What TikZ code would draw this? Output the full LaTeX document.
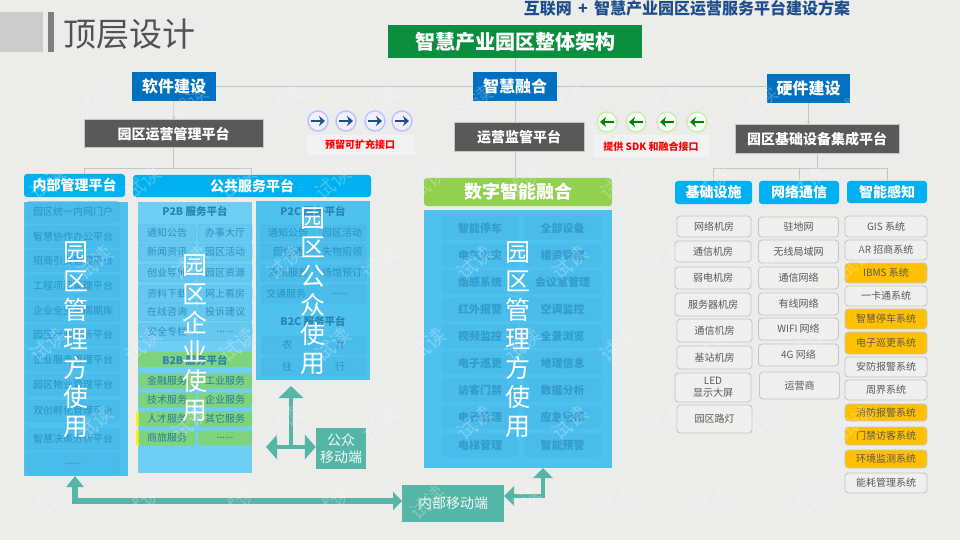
\documentclass[tikz,border=0pt]{standalone}
\usepackage{fontspec}
\setmainfont{Noto Sans CJK SC}
\usepackage{xcolor}
\usetikzlibrary{arrows.meta}

\definecolor{bgpaper}{HTML}{ECECEB}
\definecolor{titleblue}{HTML}{1F4E8C}
\definecolor{topgreen}{HTML}{0B8F3E}
\definecolor{catblue}{HTML}{0070C0}
\definecolor{darkslab}{HTML}{595959}
\definecolor{linegrey}{HTML}{C6C6C6}
\definecolor{headcyan}{HTML}{00B0F0}
\definecolor{panelblue}{HTML}{4FC1EE}
\definecolor{panelpale}{HTML}{6FCEF3}
\definecolor{itemblue}{HTML}{4ABCEB}
\definecolor{itempale}{HTML}{67C8EF}
\definecolor{itemline}{HTML}{43B4E3}
\definecolor{dimblue}{HTML}{2B93C4}
\definecolor{leafgreen}{HTML}{92D050}
\definecolor{b2bgreen}{HTML}{7FD37C}
\definecolor{tealarrow}{HTML}{55B5A6}
\definecolor{amber}{HTML}{FFC000}

\newcommand{\moredots}{......}

\tikzset{
    slab/.style={fill=#1, text=white, inner sep=0pt, font=\fontsize{16}{19}\selectfont\bfseries},
    greyslab/.style={fill=darkslab, draw=linegrey, line width=1pt, text=white, inner sep=0pt, font=\fontsize{14}{17}\selectfont\bfseries},
    headbar/.style={fill=#1, rounded corners=3pt, text=white, inner sep=0pt, font=\fontsize{14}{17}\selectfont\bfseries},
    panelbox/.style={fill=#1, inner sep=0pt},
    dimitem/.style={draw=itemline, fill=itemblue, rounded corners=3pt, text=dimblue, inner sep=0pt, font=\fontsize{10}{12}\selectfont},
    paleitem/.style={draw=itemline!70!itempale, fill=itempale, rounded corners=3pt, text=dimblue, inner sep=0pt, font=\fontsize{10}{12}\selectfont},
    greenitem/.style={fill=b2bgreen, rounded corners=3pt, text=dimblue!85!black, inner sep=0pt, font=\fontsize{10}{12}\selectfont},
    dimtitle/.style={text=dimblue!90!black, inner sep=0pt, font=\fontsize{10.5}{12}\selectfont\bfseries},
    plainleaf/.style={draw=black!22, line width=.9pt, fill=bgpaper!85!white, rounded corners=3.5pt, text=black!65, inner sep=0pt, align=center, font=\fontsize{10}{12}\selectfont},
    amberleaf/.style={plainleaf, fill=amber},
    bigword/.style={text=white, align=center, inner sep=0pt, font=\fontsize{25}{29}\selectfont},
    wire/.style={draw=linegrey, line width=.8pt},
    tealbox/.style={fill=tealarrow, text=white!92!tealarrow, inner sep=0pt, align=center, font=\fontsize{14}{17}\selectfont},
    tealline/.style={draw=tealarrow, line width=#1},
    btn/.style={circle, minimum size=20pt, inner sep=0pt, line width=1.4pt},
    watermark/.style={text=white, opacity=.25, rotate=40, inner sep=0pt, font=\fontsize{20}{24}\selectfont},
}

\begin{document}
\begin{tikzpicture}[x=1pt,y=-1pt]
    \useasboundingbox (0,0) rectangle (960,540);
    \fill[bgpaper] (0,0) rectangle (960,540);

    % title strip
    \fill[black!20] (0,12) rectangle (43,52);
    \fill[black!50] (48,12) rectangle (54,52);
    \node[text=black!68, inner sep=0pt, font=\fontsize{33}{40}\selectfont] (pagetitle) at (129,34) {顶层设计};
    \node[text=titleblue, inner sep=0pt, font=\fontsize{16}{19}\selectfont\bfseries] (plantitle) at (687,8) {互联网 \,+\, 智慧产业园区运营服务平台建设方案};

    % top levels
    \node[slab=topgreen, minimum width=254pt, minimum height=33pt, font=\fontsize{20}{24}\selectfont\bfseries] (whole) at (515,41.5) {智慧产业园区整体架构};
    \node[slab=catblue, minimum width=84pt, minimum height=29pt] (soft) at (174,86.5) {软件建设};
    \node[slab=catblue, minimum width=84pt, minimum height=29pt] (merge) at (515,86.5) {智慧融合};
    \node[slab=catblue, minimum width=83pt, minimum height=29pt] (hard) at (808.5,88.5) {硬件建设};
    \node[greyslab, minimum width=179pt, minimum height=28pt] (opsplat) at (173.5,134) {园区运营管理平台};
    \node[greyslab, minimum width=130pt, minimum height=29pt] (monplat) at (519,137.5) {运营监管平台};
    \node[greyslab, minimum width=164pt, minimum height=29pt] (devplat) at (817,139.5) {园区基础设备集成平台};

    % headers of the columns
    \node[headbar=headcyan, minimum width=101pt, minimum height=23pt] (innerhead) at (74.5,185.5) {内部管理平台};
    \node[headbar=headcyan, minimum width=238pt, minimum height=22pt] (pubhead) at (252,186) {公共服务平台};
    \node[headbar=leafgreen, minimum width=188pt, minimum height=28pt, font=\fontsize{18}{22}\selectfont\bfseries] (dighead) at (518,192) {数字智能融合};
    \node[headbar=headcyan, minimum width=77pt, minimum height=23pt] (bashead) at (713.5,192.5) {基础设施};
    \node[headbar=headcyan, minimum width=80pt, minimum height=23pt] (nethead) at (799,192.5) {网络通信};
    \node[headbar=headcyan, minimum width=80pt, minimum height=22pt] (senhead) at (887,192) {智能感知};

    % wires
    \draw[wire] (soft) -- (merge);
    \draw[wire] (merge.east) -- (hard.west |- merge.east);
    \draw[wire] (whole) -- (merge);
    \draw[wire, -{Stealth[length=3pt,width=3pt]}] (soft) -- (opsplat);
    \draw[wire, -{Stealth[length=3pt,width=3pt]}] (hard) -- (hard |- devplat.north);
    \draw[wire] (merge) -- (merge |- monplat.north);
    \draw[wire] (monplat.south -| merge) -- (merge |- dighead.north);
    \draw[wire] (opsplat.south) -- (173.5,168);
    \draw[wire] (84,174) -- (84,168) -- (251,168) -- (251,175);
    \draw[wire] (devplat.south) -- (817,168);
    \draw[wire] (bashead.north) -- (bashead.north |- 0,168) -- (senhead.north |- 0,168) -- (senhead.north);
    \draw[wire] (nethead.north) -- (nethead.north |- 0,168);

    % interface buttons
    \fill[black!5] (307,135) rectangle (415,155);
    \fill[black!5] (593,135) rectangle (710,157);
    \foreach \x [count=\i] in {318,346,375,402} {
        \node[btn, draw=blue!25!white, fill=blue!6!white] (ext\i) at (\x,121) {};
        \draw[draw=titleblue, line width=1.9pt, -{Stealth[length=6pt,width=10pt]}] ([xshift=-7pt]ext\i.center) -- ([xshift=7pt]ext\i.center);
    }
    \foreach \x [count=\i] in {607,636,667,697} {
        \node[btn, draw=leafgreen!45!white, fill=green!5!white] (sdk\i) at (\x,122) {};
        \draw[draw=green!50!black, line width=1.9pt, -{Stealth[length=6pt,width=10pt]}] ([xshift=7pt]sdk\i.center) -- ([xshift=-7pt]sdk\i.center);
    }
    \node[text=red, inner sep=0pt, font=\fontsize{10}{12}\selectfont\bfseries] (extlabel) at (360,145) {预留可扩充接口};
    \node[text=red, inner sep=0pt, font=\fontsize{10}{12}\selectfont\bfseries] (sdklabel) at (651,147) {提供 SDK 和融合接口};

    % inner panel
    \node[panelbox=panelblue, minimum width=104pt, minimum height=274pt] (innerpanel) at (76,339) {};
    \foreach \y/\t [count=\i] in {212/园区统一内网门户, 237/智慧协作办公平台, 261/招商引资管理平台, 286/工程项目管理平台, 311/企业全生命周期库, 335/园区产业分析平台, 360/企业服务管理平台, 385/园区物业管理平台, 411/双创孵化管理平台, 439/智慧决策分析平台, 464/\moredots} {
        \node[dimitem, minimum width=93pt, minimum height=21pt] (inner\i) at (73,\y) {\t};
    }

    % public panels
    \node[panelbox=panelpale, minimum width=114pt, minimum height=271pt] (p2bpanel) at (195,337.5) {};
    \node[panelbox=panelblue, minimum width=114pt, minimum height=179pt] (p2cpanel) at (313,290.5) {};
    \node[dimtitle] (p2btitle) at (195,211) {P2B 服务平台};
    \foreach \y/\a/\b [count=\i] in {233/通知公告/办事大厅, 252/新闻资讯/园区活动, 273/创业导师/园区资源, 294/资料下载/网上看房, 312/在线咨询/投诉建议, 332/安全专栏/\moredots} {
        \node[paleitem, minimum width=57pt, minimum height=17pt] (p2bl\i) at (167,\y) {\a};
        \node[paleitem, minimum width=54pt, minimum height=17pt] (p2br\i) at (225,\y) {\b};
    }
    \fill[b2bgreen] (138,352) rectangle (252,367);
    \node[dimtitle] (b2btitle) at (195,360) {B2B 服务平台};
    \fill[yellow] (136,412) rectangle (139,426);
    \fill[yellow] (136,430) rectangle (139,445);
    \foreach \y/\a/\b [count=\i] in {381/金融服务/工业服务, 400/技术服务/企业服务, 419/人才服务/其它服务, 438/商旅服务/\moredots} {
        \node[greenitem, minimum width=57pt, minimum height=15pt] (b2bl\i) at (167,\y) {\a};
        \node[greenitem, minimum width=54pt, minimum height=15pt] (b2br\i) at (225,\y) {\b};
    }
    \node[dimtitle] (p2ctitle) at (313,211) {P2C 服务平台};
    \foreach \y/\a/\b [count=\i] in {233/通知公告/园区活动, 252/园付通/失物招领, 273/资讯服务/场馆预订} {
        \node[dimitem, minimum width=55pt, minimum height=16pt] (p2cl\i) at (288,\y) {\a};
        \node[dimitem, minimum width=48pt, minimum height=16pt] (p2cr\i) at (342,\y) {\b};
    }
    \node[dimitem, minimum width=105pt, minimum height=18pt] (p2crow) at (313.5,294) {};
    \node[text=dimblue, inner sep=0pt, font=\fontsize{10}{12}\selectfont] (p2cbus) at (286,294) {交通服务};
    \node[text=dimblue, inner sep=0pt, font=\fontsize{10}{12}\selectfont] (p2cmore) at (340,294) {\moredots};
    \node[dimtitle] (b2ctitle) at (313,321) {B2C 服务平台};
    \node[dimitem, minimum width=104pt, minimum height=18pt] (b2cupper) at (314,345) {};
    \node[dimitem, minimum width=104pt, minimum height=18pt] (b2clower) at (314,367) {};
    \foreach \n/\x/\y/\t in {yi/287/345/衣, shi/340/345/食, zhu/287/367/住, xing/340/367/行} {
        \node[text=dimblue, inner sep=0pt, font=\fontsize{10}{12}\selectfont] (b2c\n) at (\x,\y) {\t};
    }

    % digital panel
    \node[panelbox=panelblue, minimum width=188pt, minimum height=258pt] (digpanel) at (518,339) {};
    \foreach \y/\a/\b [count=\i] in {228/智能停车/全部设备, 255/电气火灾/楼资管理, 282/烟感系统/会议室管理, 309/红外报警/空调监控, 336/视频监控/全景浏览, 363/电子巡更/地理信息, 390/访客门禁/数据分析, 417/电表管理/应急指挥, 445/电梯管理/智能预警} {
        \node[dimitem, draw=itemblue, text=dimblue!75!itemblue, minimum width=76pt, minimum height=23pt, font=\fontsize{11}{13}\selectfont\bfseries] (digl\i) at (480,\y) {\a};
        \node[dimitem, draw=itemblue, text=dimblue!75!itemblue, minimum width=77pt, minimum height=23pt, font=\fontsize{11}{13}\selectfont\bfseries] (digr\i) at (562.5,\y) {\b};
    }

    % big words on the panels
    \node[bigword] (innerword) at (76,340) {园\\区\\管\\理\\方\\使\\用};
    \node[bigword] (p2bword) at (195,338) {园\\区\\企\\业\\使\\用};
    \node[bigword] (p2cword) at (313,291) {园\\区\\公\\众\\使\\用};
    \node[bigword] (digword) at (518,340) {园\\区\\管\\理\\方\\使\\用};

    % hardware columns
    \foreach \x/\w/\y/\h/\t [count=\i] in {714/74/226.5/21/网络机房, 713/76/251.5/21/通信机房, 713/76/278/22/弱电机房, 713/76/304.5/23/服务器机房, 714.5/75/330.5/23/通信机房, 714.5/75/357.5/23/基站机房, 713/76/387.5/29/{LED\\显示大屏}, 714.5/75/419/28/园区路灯} {
        \node[plainleaf, minimum width=\w pt, minimum height=\h pt] (bas\i) at (\x,\y) {\t};
    }
    \foreach \x/\y/\h/\t [count=\i] in {798.5/227/20/驻地网, 798.5/251.5/23/无线局域网, 798.5/278/22/通信网络, 798.5/304/22/有线网络, 798.5/329/22/WIFI 网络, 798.5/355/22/4G 网络, 799.5/385.5/27/运营商} {
        \node[plainleaf, minimum width=80pt, minimum height=\h pt] (net\i) at (\x,\y) {\t};
    }
    \foreach \s/\y/\h/\t [count=\i] in {plainleaf/226.5/21/GIS 系统, plainleaf/250/20/AR 招商系统, amberleaf/273/20/IBMS 系统, plainleaf/296/20/一卡通系统, amberleaf/319/20/智慧停车系统, amberleaf/343/22/电子巡更系统, plainleaf/367/20/安防报警系统, plainleaf/390/20/周界系统, amberleaf/412.5/17/消防报警系统, amberleaf/436/18/门禁访客系统, amberleaf/459/18/环境监测系统, plainleaf/483/20/能耗管理系统} {
        \node[\s, minimum width=82pt, minimum height=\h pt] (sen\i) at (886,\y) {\t};
    }

    % mobile ends
    \node[tealbox, minimum width=50pt, minimum height=41pt] (pubmobile) at (341,448.5) {公众\\移动端};
    \node[tealbox, minimum width=102pt, minimum height=37pt] (innermobile) at (453,503.5) {内部移动端};
    \coordinate (pubjoint) at (291,447);
    \coordinate (pubtip) at (291,386);
    \coordinate (publeft) at (266,447);
    \coordinate (innertip) at (75,476);
    \coordinate (innerwest) at (402,501);
    \coordinate (innereast) at (504,496);
    \coordinate (digtip) at (543,468);
    \draw[tealline=4pt, -{Triangle[length=12pt,width=24pt]}] (pubjoint) -- (pubtip);
    \draw[tealline=4pt, {Triangle[length=11pt,width=24pt]}-{Triangle[length=11pt,width=24pt]}] (publeft) -- (pubmobile.west |- publeft);
    \draw[tealline=6pt, {Triangle[length=11pt,width=17pt]}-{Triangle[length=9pt,width=18pt]}] (innertip) |- (innerwest);
    \draw[tealline=4.5pt, {Triangle[length=10pt,width=19pt]}-{Triangle[length=10pt,width=19pt]}] (innereast) -| (digtip);

    % trial marks
    \foreach \r/\y/\o in {1/103/47, 2/183/0, 3/263/47, 4/345/0, 5/423/47, 6/503/0} {
        \foreach \k in {0,...,8} {
            \node[watermark] (mark\r\k) at ({48+\o+95*\k},\y) {试读};
        }
    }
\end{tikzpicture}
\end{document}
